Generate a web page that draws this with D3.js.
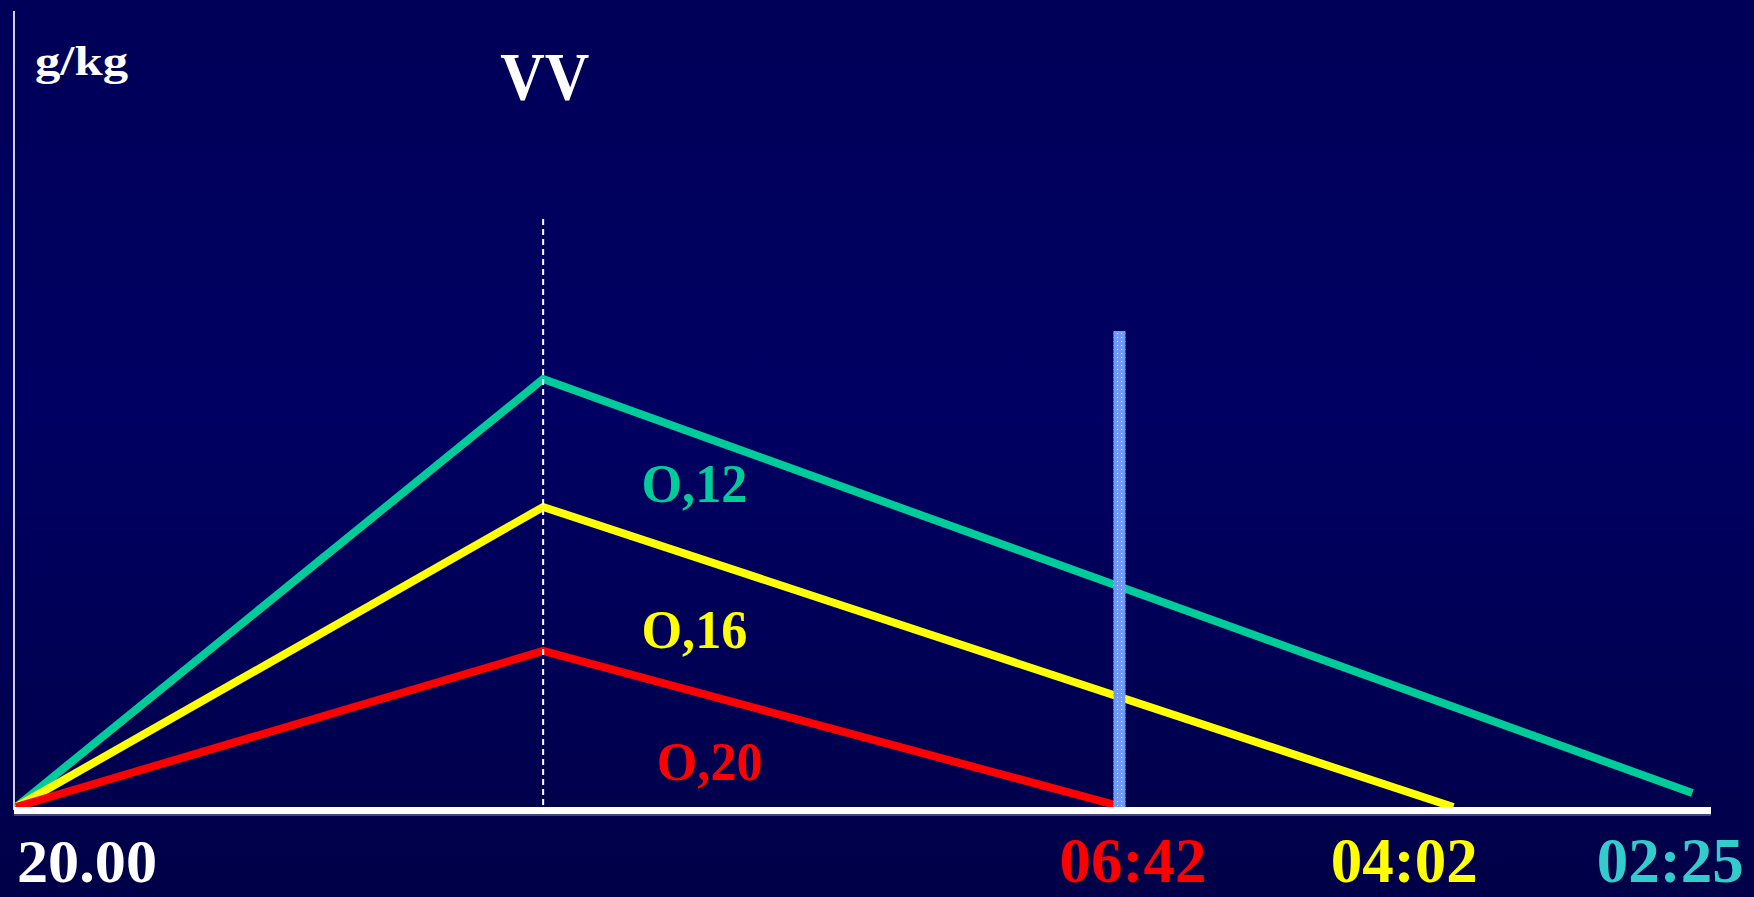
<!DOCTYPE html>
<html>
<head>
<meta charset="utf-8">
<script src="https://cdn.jsdelivr.net/npm/d3@7"></script>
<style>
  html, body { margin: 0; padding: 0; background: #000058; }
  svg { display: block; }
  text { font-family: "Liberation Serif", "Times New Roman", serif; font-weight: bold; }
</style>
</head>
<body>
<script>
// ---- data (x: relative time units, y: g/kg) ----
const seriesNames  = ["O,12", "O,16", "O,20"];
const seriesColors = ["#00cc99", "#ffff00", "#ff0000"];
const greenX  = [0, 31.1, 98.9];
const greenY  = [0, 1.07, 0.035];
const yellowX = [0, 31.1, 84.8];
const yellowY = [0, 0.75, 0];
const redX    = [0, 31.1, 65.3];
const redY    = [0, 0.39, 0];

const peakX = 31.1;          // VV (drinking stops)
const peakLabel = "VV";
const markerX = 65.1;        // highlighted time
const markerTop = 1.19;
const dashTop = 1.47;

const startLabel = "20.00";
const endLabels = ["06:42", "04:02", "02:25"];
const endLabelX = [65.9, 81.9, 97.6];
const endLabelColors = ["#ff0000", "#ffff00", "#33cccc"];

const rateLabelX = [36.9, 36.9, 37.8];
const rateLabelY = [0.7625, 0.3975, 0.0675];

const yUnit = "g/kg";

// ---- layout ----
const W = 1754, H = 897;
const x = d3.scaleLinear().domain([0, 100]).range([16, 1711]);
const y = d3.scaleLinear().domain([0, 2]).range([807, 7]);

const svg = d3.select("body").append("svg").attr("width", W).attr("height", H);
const defs = svg.append("defs");
const grad = defs.append("linearGradient").attr("id", "bg").attr("x1", 0).attr("y1", 0).attr("x2", 0).attr("y2", 1);
grad.append("stop").attr("offset", "0%").attr("stop-color", "#000058");
grad.append("stop").attr("offset", "45%").attr("stop-color", "#000063");
grad.append("stop").attr("offset", "100%").attr("stop-color", "#000048");
svg.append("rect").attr("width", W).attr("height", H).attr("fill", "url(#bg)");

const pat = defs.append("pattern").attr("id", "dots").attr("patternUnits", "userSpaceOnUse")
  .attr("width", 4).attr("height", 4);
pat.append("rect").attr("width", 4).attr("height", 4).attr("fill", "#6f9cf2");
pat.append("rect").attr("x", 1).attr("y", 1).attr("width", 1).attr("height", 1).attr("fill", "#d8e4ff");

// left axis
svg.append("line").attr("x1", 14).attr("x2", 14).attr("y1", 11).attr("y2", y(0) + 3)
  .attr("stroke", "#d0d0e4").attr("stroke-width", 2);

// series lines
const series = [
  { xs: greenX, ys: greenY },
  { xs: yellowX, ys: yellowY },
  { xs: redX, ys: redY }
];
const line = d3.line().x(d => x(d[0])).y(d => y(d[1]));
series.forEach((s, i) => {
  svg.append("path")
    .attr("d", line(d3.zip(s.xs, s.ys)))
    .attr("fill", "none")
    .attr("stroke", seriesColors[i])
    .attr("stroke-width", 8)
    .attr("stroke-linejoin", "miter")
    .attr("stroke-linecap", "butt");
});

// dashed VV line
svg.append("line").attr("x1", x(peakX)).attr("x2", x(peakX))
  .attr("y1", y(dashTop)).attr("y2", y(0))
  .attr("stroke", "#ffffff").attr("stroke-width", 2).attr("stroke-dasharray", "6,4");

// highlight bar
svg.append("rect").attr("x", x(markerX) - 6).attr("width", 12)
  .attr("y", y(markerTop)).attr("height", y(0) + 5 - y(markerTop))
  .attr("fill", "url(#dots)");

// baseline
svg.append("rect").attr("x", 14).attr("width", x(100) - 14).attr("y", y(0)).attr("height", 7).attr("fill", "#ffffff");
svg.append("line").attr("x1", 14).attr("x2", x(100)).attr("y1", y(0) + 8).attr("y2", y(0) + 8)
  .attr("stroke", "#8a8ab0").attr("stroke-width", 1);

// texts
function txt(str, px, py, size, len, color, anchor) {
  svg.append("text").attr("x", px).attr("y", py)
    .attr("font-size", size).attr("fill", color)
    .attr("text-anchor", anchor || "start")
    .attr("textLength", len).attr("lengthAdjust", "spacingAndGlyphs")
    .text(str);
}
txt(yUnit, 35, 75, 42, 93, "#ffffff");
txt(peakLabel, x(peakX) + 1.5, 99, 67, 89, "#ffffff", "middle");

seriesNames.forEach((n, i) => {
  txt(n, x(rateLabelX[i]), y(rateLabelY[i]), 54, 106, seriesColors[i]);
});

txt(startLabel, 17, 882, 62, 140, "#ffffff");
endLabels.forEach((l, i) => {
  txt(l, x(endLabelX[i]), 882, 64, 147, endLabelColors[i], "middle");
});
</script>
</body>
</html>
